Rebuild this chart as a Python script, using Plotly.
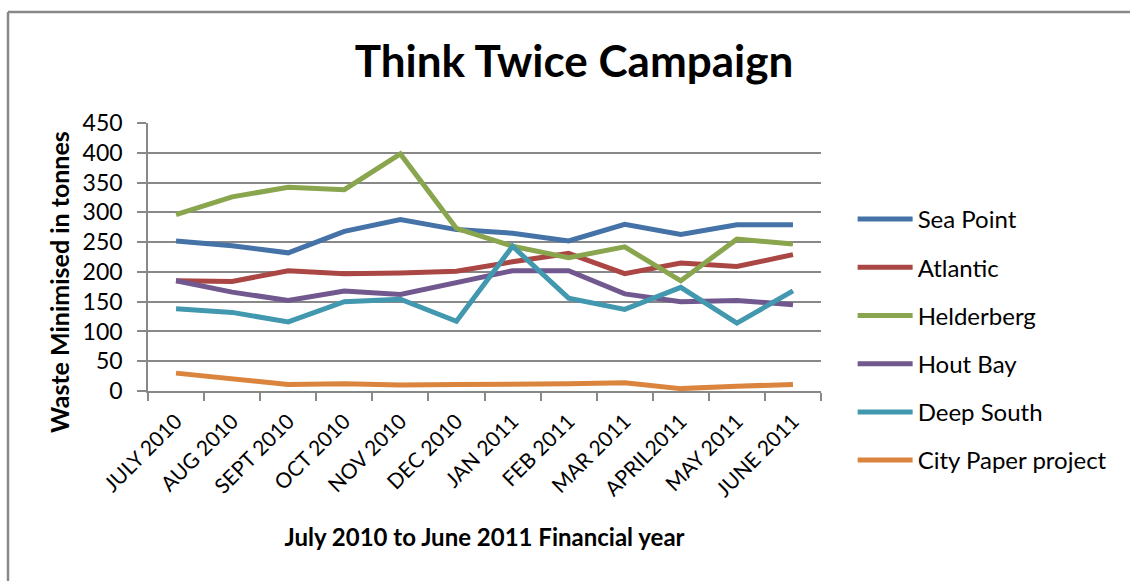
import plotly.graph_objects as go

months = ["JULY 2010", "AUG 2010", "SEPT 2010", "OCT 2010", "NOV 2010", "DEC 2010",
          "JAN 2011", "FEB 2011", "MAR 2011", "APRIL2011", "MAY 2011", "JUNE 2011"]
sea_point = [252, 244, 232, 268, 288, 271, 265, 252, 280, 263, 279, 279]
atlantic = [185, 184, 202, 197, 198, 201, 217, 231, 197, 215, 209, 229]
helderberg = [296, 326, 342, 338, 398, 273, 243, 224, 242, 185, 255, 247]
hout_bay = [185, 166, 152, 168, 162, 182, 202, 202, 163, 150, 152, 145]
deep_south = [138, 132, 116, 150, 154, 117, 243, 156, 137, 174, 114, 168]
city_paper = [30, 20, 11, 12, 10, 11, 11, 12, 14, 4, 8, 11]

series = [
    ("Sea Point", sea_point, "#4572A7"),
    ("Atlantic", atlantic, "#AA4643"),
    ("Helderberg", helderberg, "#89A54E"),
    ("Hout Bay", hout_bay, "#71588F"),
    ("Deep South", deep_south, "#4198AF"),
    ("City Paper project", city_paper, "#DB843D"),
]

font = "Lato, Open Sans, Liberation Sans, Arial, sans-serif"

fig = go.Figure()
for i, (name, vals, col) in enumerate(series):
    fig.add_trace(go.Scatter(x=months, y=vals, mode="lines", name=name,
                             legendgroup=f"g{i}",
                             line=dict(color=col, width=5)))

fig.update_layout(
    width=1130, height=581,
    margin=dict(l=148, r=309, t=123, b=190),
    paper_bgcolor="white", plot_bgcolor="white",
    font=dict(family=font, color="black"),
    title=dict(text="<b>Think Twice Campaign</b>", x=0.508, xanchor="center",
               y=1 - 62 / 581, yanchor="middle",
               font=dict(size=44, family=font, color="black")),
    showlegend=True,
    legend=dict(x=1.047, xanchor="left", y=(391 - 197) / 268, yanchor="top",
                font=dict(size=24, family=font, color="black"),
                tracegroupgap=14, itemwidth=55, bgcolor="rgba(0,0,0,0)",
                maxheight=500),
    xaxis=dict(
        type="category", range=[-0.5, 11.5], tickangle=-45,
        tickfont=dict(size=21, family=font, color="black"),
        ticklabelstandoff=8,
        showgrid=False, showline=True, linecolor="#888888", linewidth=1.5,
        ticks="outside", tickson="boundaries", ticklen=8, tickcolor="#888888", tickwidth=1.5,
        title=dict(text="<b>July 2010 to June 2011 Financial year</b>",
                   font=dict(size=24, family=font, color="black"), standoff=29),
    ),
    yaxis=dict(
        range=[0, 450], dtick=50, tick0=0,
        tickfont=dict(size=23, family=font, color="black"),
        ticklabelstandoff=10,
        showgrid=True, gridcolor="#888888", gridwidth=1.5,
        showline=True, linecolor="#888888", linewidth=1.5,
        ticks="outside", ticklen=9, tickcolor="#888888", tickwidth=1.5,
        zeroline=False,
    ),
)

# y-axis title (placed as in the reference, slightly below the plot centre)
fig.add_annotation(text="<b>Waste Minimised in tonnes</b>", textangle=-90,
                   xref="paper", yref="paper",
                   x=(59 - 148) / 673, y=(391 - 282) / 268,
                   xanchor="center", yanchor="middle", showarrow=False,
                   font=dict(size=25, family=font, color="black"))

# chart frame (partially cropped in the reference)
fig.add_shape(type="line", xref="paper", yref="paper",
              x0=(8 - 148) / 673, x1=(1130 - 148) / 673 + 0.01,
              y0=(391 - 12) / 268, y1=(391 - 12) / 268,
              line=dict(color="#888888", width=2.5))
fig.add_shape(type="line", xref="paper", yref="paper",
              x0=(8 - 148) / 673, x1=(8 - 148) / 673,
              y0=(391 - 12) / 268, y1=(391 - 590) / 268,
              line=dict(color="#888888", width=2.5))

fig.write_html("out.html")
